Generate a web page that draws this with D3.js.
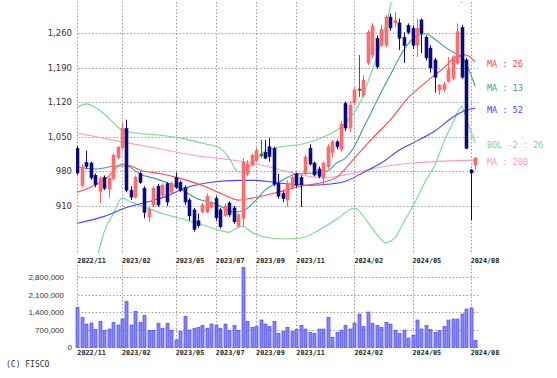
<!DOCTYPE html>
<html>
<head>
<meta charset="utf-8">
<script src="https://cdn.jsdelivr.net/npm/d3@7"></script>
<style>
  body { margin: 0; background: #fff; }
  svg { display: block; }
</style>
</head>
<body>
<svg></svg>
<script>
// weekly candles, 2022/11 .. 2024/08

var tickLabels = ['2022/11', '2023/02', '2023/05', '2023/07', '2023/09', '2023/11', '2024/02', '2024/05', '2024/08'];
var tickWeeks = [0, 10, 22, 31, 40, 49, 62, 75, 88];

var opens = [1027, 952, 998, 997, 972, 940, 968, 944, 966, 1008,
  1029, 1067, 942, 928, 976, 946, 888, 912, 950, 932,
  955, 938, 968, 958, 948, 922, 902, 880, 898, 898,
  908, 925, 902, 891, 916, 906, 870, 885, 975, 993,
  1002, 1015, 1019, 1030, 1027, 956, 935, 922, 948, 975,
  968, 976, 1027, 997, 985, 968, 990, 1019, 1040, 1025,
  1118, 1068, 1119, 1147, 1135, 1200, 1216, 1250, 1236, 1236,
  1293, 1281, 1281, 1252, 1276, 1270, 1236, 1287, 1252, 1230,
  1206, 1145, 1146, 1162, 1169, 1200, 1272, 1206, 983, 993];
var highs = [1032, 995, 1022, 1000, 976, 970, 972, 968, 1016, 1031,
  1078, 1085, 950, 972, 980, 950, 908, 950, 955, 956,
  958, 960, 978, 962, 952, 926, 906, 895, 916, 935,
  920, 930, 906, 915, 920, 910, 896, 1007, 1003, 1016,
  1028, 1044, 1044, 1048, 1030, 975, 940, 962, 972, 978,
  972, 1015, 1035, 1000, 990, 1000, 1035, 1044, 1044, 1082,
  1122, 1122, 1150, 1216, 1175, 1267, 1281, 1256, 1277, 1297,
  1300, 1303, 1290, 1262, 1280, 1276, 1290, 1290, 1256, 1236,
  1210, 1157, 1162, 1212, 1216, 1280, 1277, 1210, 985, 1009];
var lows = [972, 948, 985, 963, 948, 916, 942, 926, 962, 1004,
  1025, 938, 922, 925, 955, 885, 878, 908, 908, 928,
  910, 935, 945, 938, 912, 880, 858, 866, 895, 895,
  905, 880, 864, 888, 888, 874, 866, 868, 970, 990,
  999, 1008, 1005, 1000, 950, 925, 918, 908, 944, 948,
  908, 972, 992, 970, 966, 952, 985, 1009, 1025, 1020,
  1062, 1060, 1115, 1131, 1130, 1196, 1210, 1188, 1232, 1232,
  1265, 1272, 1226, 1200, 1258, 1228, 1212, 1220, 1205, 1180,
  1140, 1135, 1141, 1160, 1165, 1196, 1168, 1025, 881, 983];
var closes = [977, 988, 990, 967, 953, 966, 946, 966, 1013, 1029,
  1067, 942, 928, 968, 958, 897, 903, 946, 912, 952,
  918, 956, 948, 942, 918, 890, 862, 870, 912, 930,
  916, 886, 868, 910, 892, 878, 892, 998, 995, 1013,
  1022, 1015, 1007, 1010, 954, 930, 925, 955, 968, 952,
  953, 1009, 995, 973, 970, 997, 1030, 1040, 1030, 1075,
  1068, 1114, 1145, 1147, 1165, 1262, 1275, 1192, 1268, 1293,
  1271, 1286, 1250, 1235, 1262, 1236, 1270, 1260, 1210, 1190,
  1171, 1155, 1156, 1186, 1212, 1263, 1171, 1027, 977, 1007];
var volumes = [1600000, 1200000, 930000, 970000, 710000, 1040000, 670000, 730000, 1000000, 890000,
  1130000, 1840000, 890000, 1440000, 1000000, 1270000, 670000, 670000, 960000, 760000,
  960000, 670000, 290000, 640000, 1240000, 690000, 760000, 800000, 870000, 760000,
  930000, 890000, 760000, 930000, 670000, 870000, 670000, 3200000, 1040000, 800000,
  830000, 1090000, 930000, 830000, 1040000, 560000, 630000, 800000, 630000, 710000,
  870000, 730000, 600000, 560000, 730000, 730000, 1200000, 400000, 600000, 690000,
  870000, 730000, 970000, 1330000, 830000, 1410000, 960000, 870000, 800000, 1000000,
  930000, 670000, 560000, 690000, 370000, 490000, 1090000, 730000, 870000, 710000,
  600000, 670000, 830000, 1090000, 1130000, 1130000, 1330000, 1530000, 1570000, 270000];

// moving averages as [week, value]
var ma13 = [[0, 989], [4, 985], [9, 991], [11, 991], [14, 975], [18, 964], [22, 950], [27, 924],
  [31, 914], [35, 898], [37, 900], [40, 922], [42, 942], [45, 958], [49, 975], [53, 977],
  [56, 981], [58, 997], [60, 1007], [62, 1031], [64, 1068], [66, 1104], [68, 1141], [70, 1175],
  [72, 1210], [74, 1238], [76, 1255], [78, 1259], [80, 1248], [82, 1234], [84, 1222], [86, 1210],
  [87, 1198], [88, 1177], [89, 1153]];
var ma26 = [[0, 938], [3, 948], [7, 970], [10, 995], [12, 991], [14, 983], [19, 975], [23, 966],
  [29, 948], [33, 932], [36, 922], [39, 926], [44, 936], [50, 950], [55, 958], [58, 968],
  [62, 1007], [66, 1047], [70, 1084], [74, 1129], [78, 1161], [82, 1190], [85, 1214], [87, 1216],
  [89, 1202]];
var ma52 = [[0, 875], [6, 889], [11, 907], [16, 919], [20, 930], [24, 946], [30, 958], [36, 962],
  [40, 962], [44, 958], [48, 954], [52, 952], [56, 954], [60, 960], [64, 978], [68, 997],
  [72, 1023], [76, 1042], [80, 1062], [84, 1090], [87, 1104], [89, 1108]];
var ma200 = [[0, 1058], [10, 1040], [19, 1025], [26, 1013], [33, 1005], [38, 999], [43, 989],
  [50, 973], [55, 967], [60, 973], [64, 981], [68, 989], [75, 997], [82, 1001], [89, 1003]];
var bolUpper = [[0, 1110], [2, 1117], [5, 1104], [8, 1080], [10, 1064], [13, 1058], [18, 1054],
  [23, 1048], [28, 1037], [32, 1027], [34, 1007], [36, 979], [37, 979], [39, 995], [42, 1021],
  [45, 1029], [50, 1035], [54, 1046], [57, 1058], [59, 1070], [61, 1088], [63, 1115], [65, 1161],
  [67, 1212], [69, 1277], [71, 1348], [74, 1429], [78, 1469], [82, 1429], [85, 1344], [86, 1322],
  [87, 1358], [89, 1419]];
var bolLower = [[0, 775], [2, 784], [4, 797], [5, 825], [6, 857], [8, 894], [10, 926], [12, 918],
  [15, 908], [19, 895], [23, 885], [27, 875], [31, 863], [34, 857], [36, 867], [37, 869],
  [39, 857], [42, 847], [46, 843], [50, 845], [54, 861], [58, 883], [62, 906], [65, 877],
  [67, 853], [69, 836], [71, 845], [73, 877], [75, 908], [78, 962], [80, 993], [82, 1040],
  [84, 1078], [86, 1112], [87, 1088], [88, 1062], [89, 1038]];

var priceTicks = [910, 980, 1050, 1120, 1190, 1260];
var volumeTicks = [0, 700000, 1400000, 2100000, 2800000];

var width = 557;
var height = 378;
var svg = d3.select('svg')
  .attr('width', width)
  .attr('height', height);

var plotLeft = 78, plotRight = 478;
var mainTop = 2, mainBottom = 253;
var volTop = 265, volBottom = 347.3;

var x = d3.scaleLinear().domain([0, 89]).range([77.3, 475.1]);
var y = d3.scaleLinear().domain([910, 1260]).range([206, 33.3]);
var yv = d3.scaleLinear().domain([0, 2800000]).range([volBottom, 277.3]);

var gridColor = '#9a9a9a';
var dash = '1.5,2';
var mono = "'DejaVu Sans Mono', monospace";

svg.append('defs').append('clipPath').attr('id', 'plot')
  .append('rect')
    .attr('x', plotLeft - 2).attr('y', mainTop)
    .attr('width', plotRight - plotLeft + 4).attr('height', mainBottom - mainTop);

// grid
var grid = svg.append('g').attr('stroke', gridColor).attr('stroke-dasharray', dash).attr('fill', 'none');
grid.selectAll('.hp').data(priceTicks).enter().append('line')
  .attr('x1', plotLeft).attr('x2', plotRight)
  .attr('y1', d => Math.round(y(d)) + 0.5).attr('y2', d => Math.round(y(d)) + 0.5);
grid.selectAll('.hv').data(volumeTicks).enter().append('line')
  .attr('x1', plotLeft).attr('x2', plotRight)
  .attr('y1', d => Math.round(yv(d)) + 0.5).attr('y2', d => Math.round(yv(d)) + 0.5);
grid.selectAll('.vp').data(tickWeeks).enter().append('line')
  .attr('x1', d => Math.round(x(d)) + 0.5).attr('x2', d => Math.round(x(d)) + 0.5)
  .attr('y1', mainTop).attr('y2', mainBottom);
grid.selectAll('.vv').data(tickWeeks).enter().append('line')
  .attr('x1', d => Math.round(x(d)) + 0.5).attr('x2', d => Math.round(x(d)) + 0.5)
  .attr('y1', volTop).attr('y2', volBottom);

// price axis labels
svg.append('g').selectAll('text').data(priceTicks).enter().append('text')
  .attr('x', 72).attr('y', d => y(d))
  .attr('dy', '0.35em')
  .attr('text-anchor', 'end')
  .attr('font-family', "'DejaVu Sans', sans-serif")
  .attr('font-size', '8.5px')
  .attr('fill', '#333')
  .text(d => d3.format(',')(d));

// volume axis labels
svg.append('g').selectAll('text').data(volumeTicks).enter().append('text')
  .attr('x', d => d === 0 ? 72 : 64).attr('y', d => yv(d))
  .attr('dy', '0.35em')
  .attr('text-anchor', 'end')
  .attr('font-family', "'Liberation Sans', Arial, sans-serif")
  .attr('font-size', '8px')
  .attr('fill', '#333')
  .text(d => d3.format(',')(d));

// date labels above and below the volume panel
[260.5, 353].forEach(function(ty) {
  svg.append('g').selectAll('text').data(tickWeeks).enter().append('text')
    .attr('x', d => x(d)).attr('y', ty)
    .attr('dy', '0.35em')
    .attr('font-family', mono)
    .attr('font-size', '6.8px')
    .attr('font-weight', 'bold')
    .attr('fill', '#222')
    .text((d, i) => tickLabels[i]);
});

// indicator lines
var plot = svg.append('g').attr('clip-path', 'url(#plot)');
var line = d3.line().x(d => x(d[0])).y(d => y(d[1])).curve(d3.curveMonotoneX);
var series = [
  { data: bolUpper, color: '#6fdc8c' },
  { data: bolLower, color: '#6fdc8c', label: 'BOL -2 : 26' },
  { data: ma200, color: '#ff99cc', label: 'MA : 200' },
  { data: ma52, color: '#4646ff', label: 'MA : 52' },
  { data: ma26, color: '#ff4848', label: 'MA : 26' },
  { data: ma13, color: '#3a9c9c', label: 'MA : 13' }
];
plot.selectAll('.ma').data(series).enter().append('path')
  .attr('d', d => line(d.data))
  .attr('fill', 'none')
  .attr('stroke', d => d.color)
  .attr('stroke-width', 1.1);

// candles
var idx = d3.range(opens.length);
function candleColor(i) {
  if (closes[i] > opens[i]) return '#ff5c5c';
  if (closes[i] < opens[i]) return '#0a0a80';
  return '#2f6e2f';
}
var candles = plot.selectAll('.candle').data(idx).enter().append('g');
candles.append('line')
  .attr('x1', i => Math.round(x(i)) + 0.5).attr('x2', i => Math.round(x(i)) + 0.5)
  .attr('y1', i => y(highs[i])).attr('y2', i => y(lows[i]))
  .attr('stroke', candleColor)
  .attr('stroke-width', 1);
candles.append('rect')
  .attr('x', i => Math.round(x(i)) - 1)
  .attr('width', 3)
  .attr('y', i => y(Math.max(opens[i], closes[i])))
  .attr('height', i => Math.max(1.5, Math.abs(y(opens[i]) - y(closes[i]))))
  .attr('fill', i => closes[i] > opens[i] ? '#ff7070' : candleColor(i))
  .attr('stroke', candleColor)
  .attr('stroke-width', 0.6);

// volume bars
svg.append('g').selectAll('rect').data(idx).enter().append('rect')
  .attr('x', i => Math.round(x(i)) - 1)
  .attr('width', 3)
  .attr('y', i => yv(volumes[i]))
  .attr('height', i => yv(0) - yv(volumes[i]))
  .attr('fill', '#8686ff')
  .attr('stroke', '#4a4ae6')
  .attr('stroke-width', 0.7);

// line labels at the right, level with each line's last value
svg.append('g').selectAll('text').data(series.filter(s => s.label)).enter().append('text')
  .attr('x', 487)
  .attr('y', d => y(d.data[d.data.length - 1][1]) + 2)
  .attr('dy', '0.35em')
  .attr('font-family', mono)
  .attr('font-size', '8.5px')
  .attr('fill', d => d.color)
  .text(d => d.label);

svg.append('text')
  .attr('x', 6).attr('y', 364)
  .attr('dy', '0.35em')
  .attr('font-family', mono)
  .attr('font-size', '8px')
  .attr('fill', '#333')
  .text('(C) FISCO');
</script>
</body>
</html>
